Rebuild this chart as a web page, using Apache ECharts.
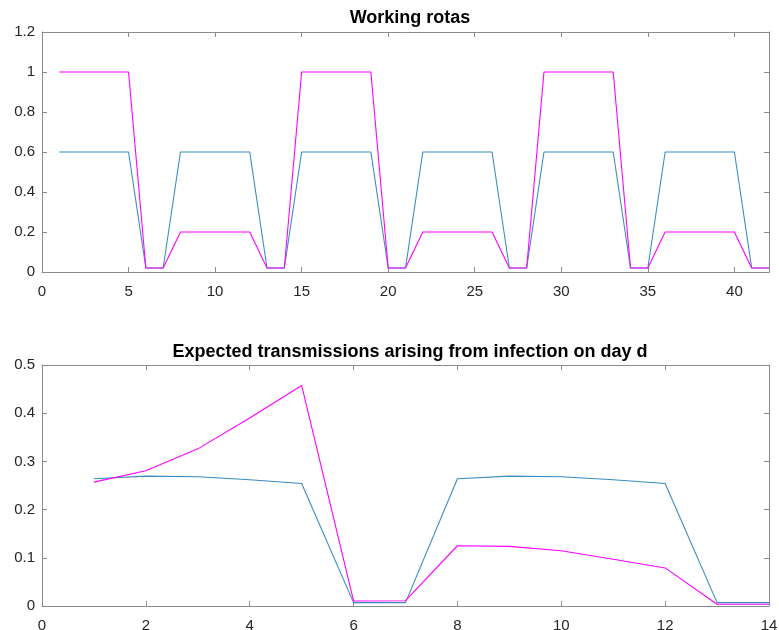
<!DOCTYPE html>
<html>
<head>
<meta charset="utf-8">
<script src="https://cdn.jsdelivr.net/npm/echarts@6/dist/echarts.min.js"></script>
<style>
  html, body { margin: 0; padding: 0; background: #fff; }
  #chart { width: 779px; height: 630px; }
</style>
</head>
<body>
<div id="chart"></div>
<script>
// Working rotas: day index and fraction working for the two rota patterns
const rotaDays = [1,2,3,4,5,6,7,8,9,10,11,12,13,14,15,16,17,18,19,20,21,22,23,24,25,26,27,28,29,30,31,32,33,34,35,36,37,38,39,40,41,42];
const rotaBlue = [0.6,0.6,0.6,0.6,0.6,0.02,0.02,0.6,0.6,0.6,0.6,0.6,0.02,0.02,0.6,0.6,0.6,0.6,0.6,0.02,0.02,0.6,0.6,0.6,0.6,0.6,0.02,0.02,0.6,0.6,0.6,0.6,0.6,0.02,0.02,0.6,0.6,0.6,0.6,0.6,0.02,0.02];
const rotaMagenta = [1,1,1,1,1,0.02,0.02,0.2,0.2,0.2,0.2,0.2,0.02,0.02,1,1,1,1,1,0.02,0.02,0.2,0.2,0.2,0.2,0.2,0.02,0.02,1,1,1,1,1,0.02,0.02,0.2,0.2,0.2,0.2,0.2,0.02,0.02];

// Expected transmissions by day of infection d
const infDays = [1,2,3,4,5,6,7,8,9,10,11,12,13,14];
const transBlue = [0.264,0.2695,0.268,0.262,0.254,0.007,0.007,0.264,0.2695,0.268,0.262,0.254,0.007,0.007];
const transMagenta = [0.257,0.2805,0.326,0.390,0.4575,0.0105,0.011,0.125,0.1237,0.1146,0.097,0.079,0.0035,0.0035];

const titles = ['Working rotas', 'Expected transmissions arising from infection on day d'];

const BLUE = '#3a8dc0';
const MAGENTA = '#ff00ff';
const AXIS = '#8a8a8a';
const TEXT = '#262626';
const FONT = '"Liberation Sans", Arial, Helvetica, sans-serif';

function pairs(xs, ys) { return xs.map((x, i) => [x, ys[i]]); }

const grids = [
  { left: 42, right: 10, top: 32, height: 240, outerBoundsMode: 'none', containLabel: false },
  { left: 42, right: 10, top: 365, height: 241, outerBoundsMode: 'none', containLabel: false }
];

function mainX(gi, max, interval, showMax) {
  return {
    type: 'value', gridIndex: gi, min: 0, max: max, interval: interval, position: 'bottom',
    axisLine: { show: true, onZero: false, lineStyle: { color: AXIS, width: 1 } },
    axisTick: { show: true, inside: true, length: 5, lineStyle: { color: AXIS } },
    axisLabel: { show: true, color: TEXT, fontSize: 15, fontFamily: FONT, margin: 12, showMaxLabel: showMax, showMinLabel: true },
    splitLine: { show: false }
  };
}
function mirrorX(gi, max, interval) {
  return {
    type: 'value', gridIndex: gi, min: 0, max: max, interval: interval, position: 'top',
    axisLine: { show: true, onZero: false, lineStyle: { color: AXIS, width: 1 } },
    axisTick: { show: true, inside: true, length: 5, lineStyle: { color: AXIS } },
    axisLabel: { show: false }, splitLine: { show: false }
  };
}
function mainY(gi, max, interval) {
  return {
    type: 'value', gridIndex: gi, min: 0, max: max, interval: interval, position: 'left',
    axisLine: { show: true, onZero: false, lineStyle: { color: AXIS, width: 1 } },
    axisTick: { show: true, inside: true, length: 5, lineStyle: { color: AXIS } },
    axisLabel: { show: true, color: TEXT, fontSize: 15, fontFamily: FONT, margin: 7 },
    splitLine: { show: false }
  };
}
function mirrorY(gi, max, interval) {
  return {
    type: 'value', gridIndex: gi, min: 0, max: max, interval: interval, position: 'right',
    axisLine: { show: true, onZero: false, lineStyle: { color: AXIS, width: 1 } },
    axisTick: { show: true, inside: true, length: 5, lineStyle: { color: AXIS } },
    axisLabel: { show: false }, splitLine: { show: false }
  };
}

function line(xi, yi, data, color) {
  return {
    type: 'line', xAxisIndex: xi, yAxisIndex: yi, data: data,
    symbol: 'none', showSymbol: false, smooth: false, animation: false,
    lineStyle: { color: color, width: 1.1 }, itemStyle: { color: color }
  };
}

const chart = echarts.init(document.getElementById('chart'), null, { renderer: 'canvas' });
chart.setOption({
  animation: false,
  backgroundColor: '#ffffff',
  title: [
    { text: titles[0], left: 405, top: 4, textAlign: 'center',
      textStyle: { fontFamily: FONT, fontWeight: 'bold', fontSize: 18, color: '#000' } },
    { text: titles[1], left: 405, top: 338, textAlign: 'center',
      textStyle: { fontFamily: FONT, fontWeight: 'bold', fontSize: 18, color: '#000' } }
  ],
  grid: grids,
  xAxis: [ mainX(0, 42, 5, false), mirrorX(0, 42, 5), mainX(1, 14, 2, true), mirrorX(1, 14, 2) ],
  yAxis: [ mainY(0, 1.2, 0.2), mirrorY(0, 1.2, 0.2), mainY(1, 0.5, 0.1), mirrorY(1, 0.5, 0.1) ],
  series: [
    line(0, 0, pairs(rotaDays, rotaBlue), BLUE),
    line(0, 0, pairs(rotaDays, rotaMagenta), MAGENTA),
    line(2, 2, pairs(infDays, transBlue), BLUE),
    line(2, 2, pairs(infDays, transMagenta), MAGENTA)
  ]
});
</script>
</body>
</html>
